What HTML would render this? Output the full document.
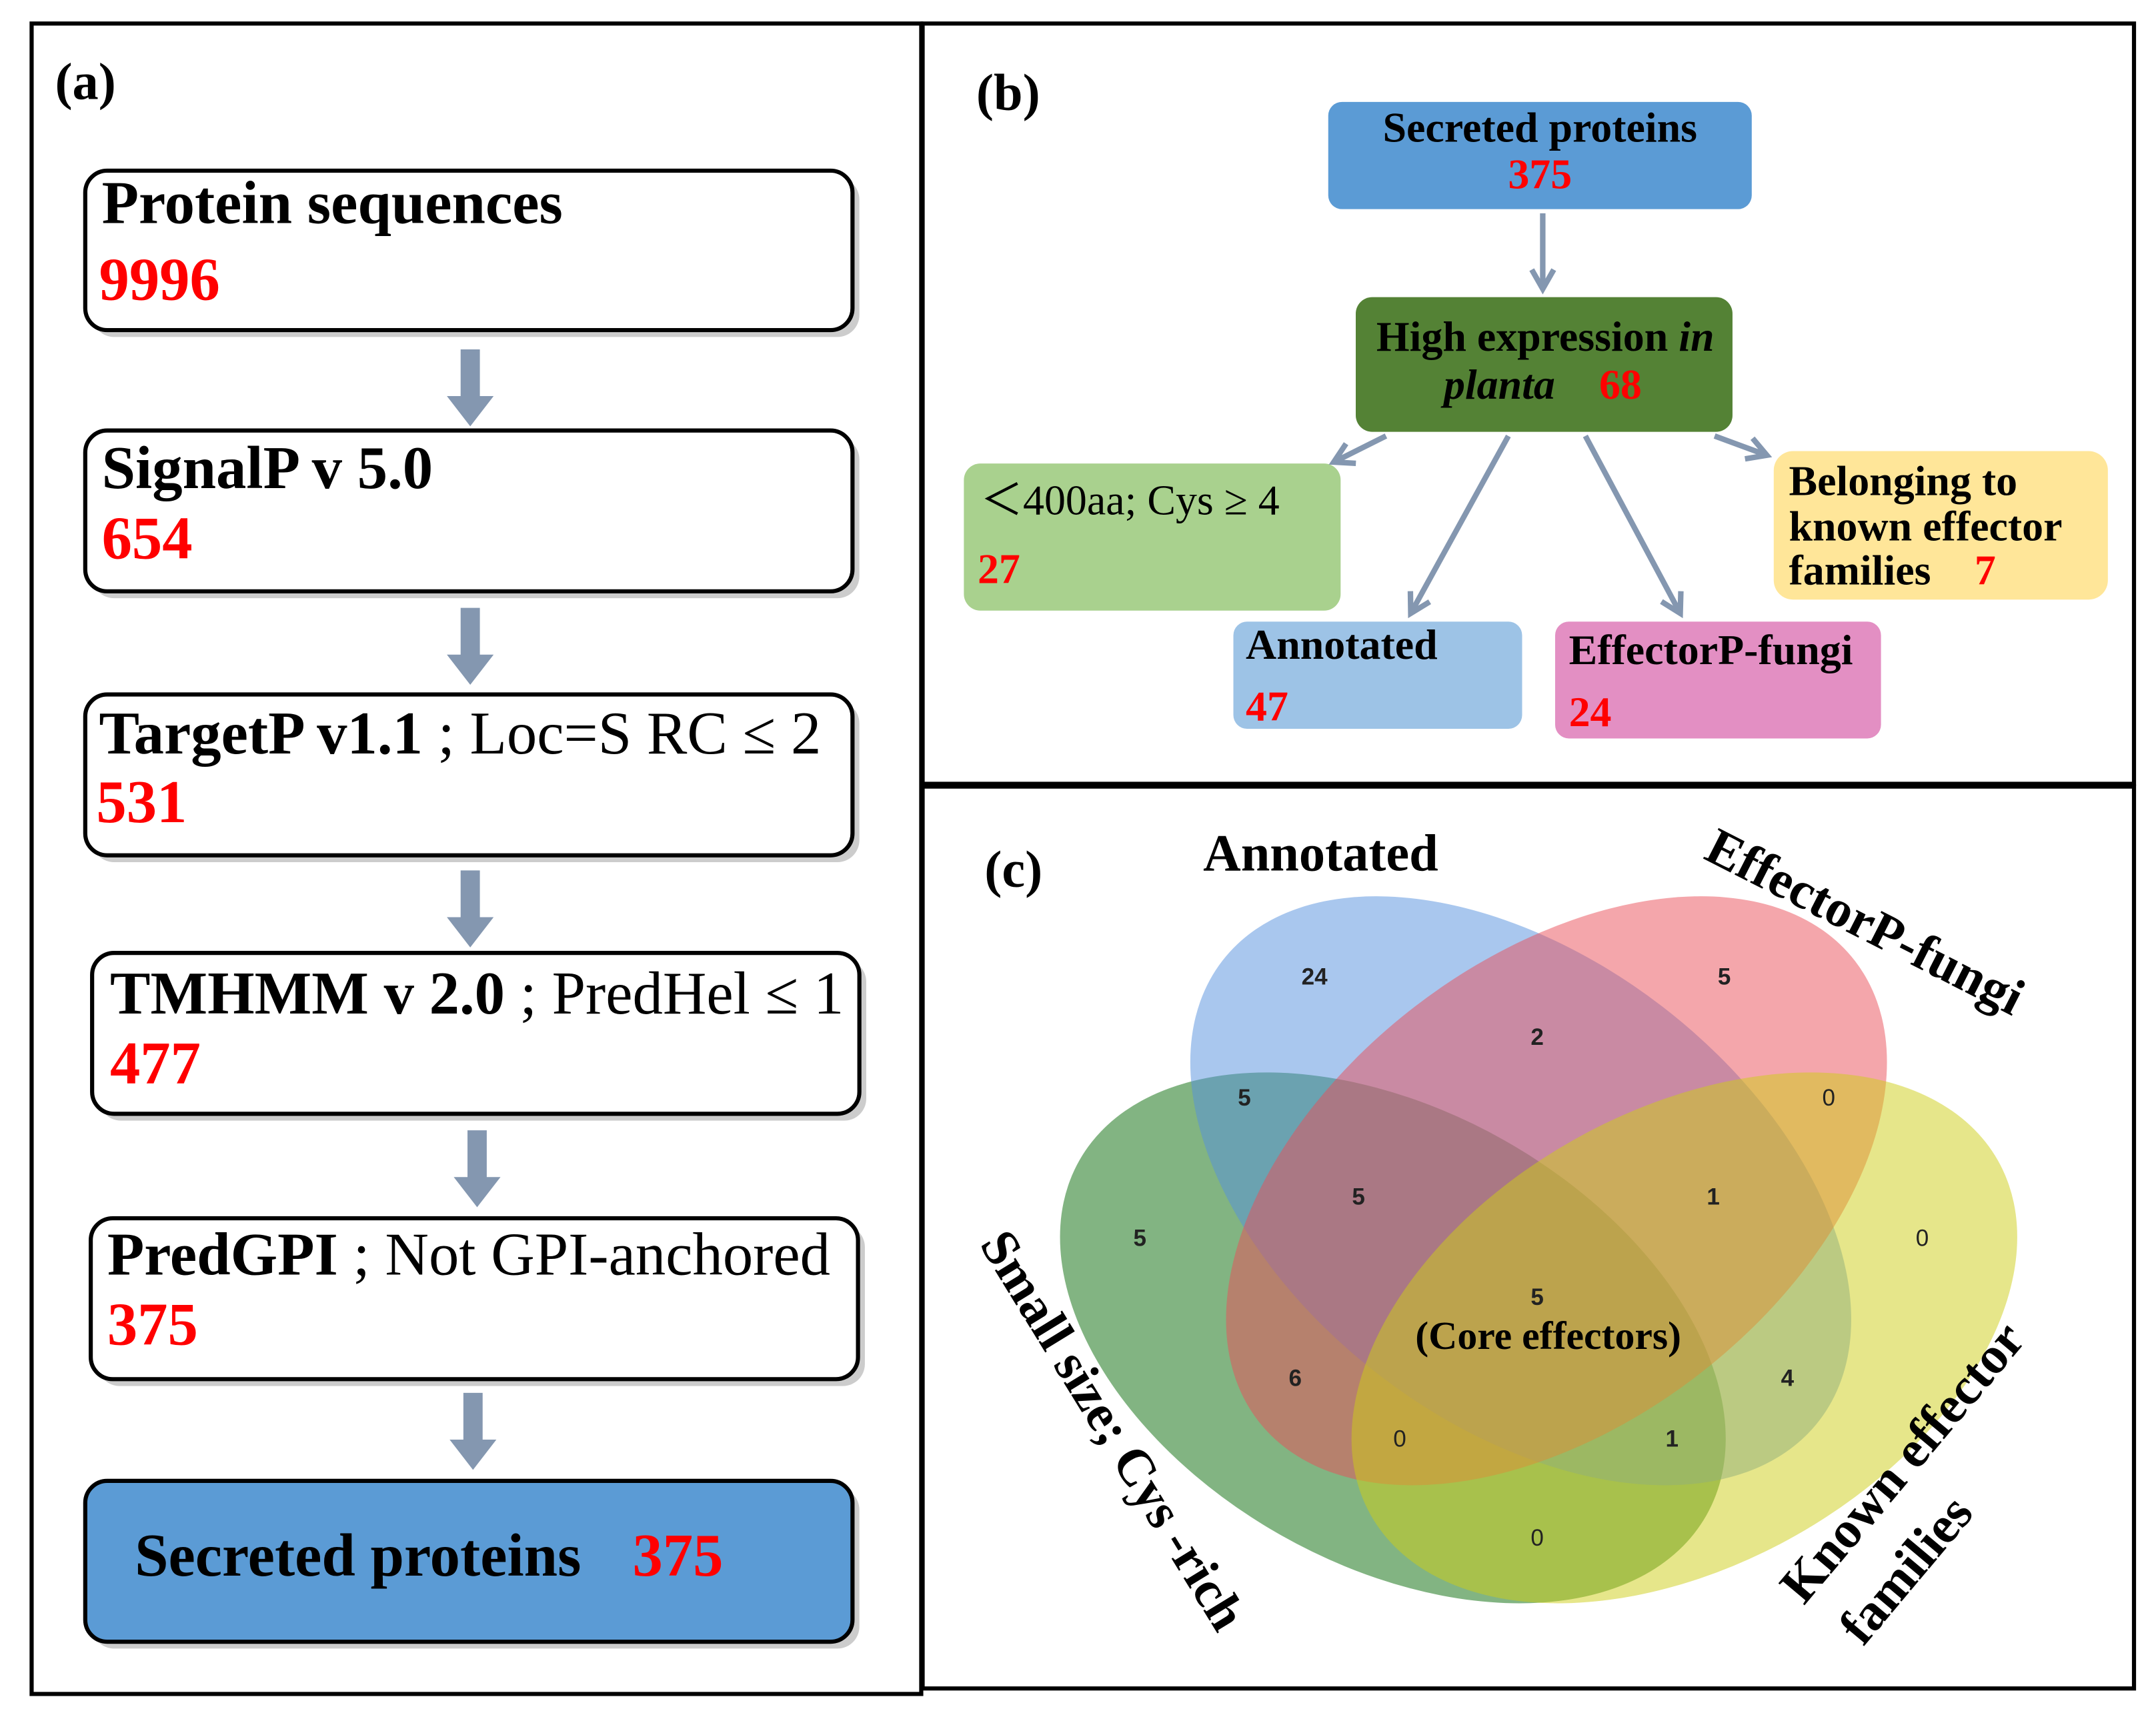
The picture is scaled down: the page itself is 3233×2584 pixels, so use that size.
<!DOCTYPE html>
<html><head><meta charset="utf-8"><style>html,body{margin:0;padding:0;background:#fff}svg{display:block}</style></head>
<body>
<svg xmlns="http://www.w3.org/2000/svg" width="3233" height="2584" viewBox="0 0 1568 1253" font-family="'Liberation Serif', serif">
<defs>
<marker id="ah" viewBox="0 0 10 10" refX="8" refY="5" markerWidth="5" markerHeight="5" orient="auto-start-reverse"><path d="M1,1 L8,5 L1,9" fill="none" stroke="#8497b0" stroke-width="2"/></marker>
</defs>
<rect width="1568" height="1253" fill="#fff"/>
<rect x="23" y="17" width="647" height="1215" fill="none" stroke="#000" stroke-width="3"/>
<rect x="671" y="17" width="881" height="553" fill="none" stroke="#000" stroke-width="3"/>
<rect x="671" y="572" width="881" height="656" fill="none" stroke="#000" stroke-width="3"/>

<!-- panel a -->
<text x="40" y="72" font-size="38" font-weight="bold">(a)</text>
<g stroke="#000" stroke-width="3">
<rect x="67" y="129" width="558" height="116" rx="16" fill="#999" stroke="none" opacity="0.5"/>
<rect x="62" y="124" width="558" height="116" rx="16" fill="#fff"/>
<rect x="67" y="318" width="558" height="117" rx="16" fill="#999" stroke="none" opacity="0.5"/>
<rect x="62" y="313" width="558" height="117" rx="16" fill="#fff"/>
<rect x="67" y="510" width="558" height="117" rx="16" fill="#999" stroke="none" opacity="0.5"/>
<rect x="62" y="505" width="558" height="117" rx="16" fill="#fff"/>
<rect x="72" y="698" width="558" height="117" rx="16" fill="#999" stroke="none" opacity="0.5"/>
<rect x="67" y="693" width="558" height="117" rx="16" fill="#fff"/>
<rect x="71" y="891" width="558" height="117" rx="16" fill="#999" stroke="none" opacity="0.5"/>
<rect x="66" y="886" width="558" height="117" rx="16" fill="#fff"/>
<rect x="67" y="1082" width="558" height="117" rx="16" fill="#999" stroke="none" opacity="0.5"/>
<rect x="62" y="1077" width="558" height="117" rx="16" fill="#5b9bd5"/>
</g>
<g font-size="44" font-weight="bold">
<text x="74" y="162">Protein sequences</text>
<text x="72" y="218" fill="#f00">9996</text>
<text x="74" y="355">SignalP v 5.0</text>
<text x="74" y="406" fill="#f00">654</text>
<text x="72" y="548">TargetP v1.1 <tspan font-weight="normal">; Loc=S RC ≤ 2</tspan></text>
<text x="70" y="598" fill="#f00">531</text>
<text x="80" y="737">TMHMM v 2.0 <tspan font-weight="normal">; PredHel ≤ 1</tspan></text>
<text x="80" y="788" fill="#f00">477</text>
<text x="78" y="927">PredGPI <tspan font-weight="normal">; Not GPI-anchored</tspan></text>
<text x="78" y="978" fill="#f00">375</text>
<text x="98" y="1146">Secreted proteins</text>
<text x="460" y="1146" fill="#f00">375</text>
</g>
<g fill="#8497b0">
<path d="M335,254 h14 v34 h10 l-17,22 l-17,-22 h10z"/>
<path d="M335,442 h14 v34 h10 l-17,22 l-17,-22 h10z"/>
<path d="M335,633 h14 v34 h10 l-17,22 l-17,-22 h10z"/>
<path d="M340,822 h14 v34 h10 l-17,22 l-17,-22 h10z"/>
<path d="M337,1013 h14 v34 h10 l-17,22 l-17,-22 h10z"/>
</g>

<!-- panel b -->
<text x="710" y="80" font-size="38" font-weight="bold">(b)</text>
<rect x="966" y="74" width="308" height="78" rx="10" fill="#5b9bd5"/>
<rect x="986" y="216" width="274" height="98" rx="12" fill="#548235"/>
<rect x="701" y="337" width="274" height="107" rx="12" fill="#a9d18e"/>
<rect x="897" y="452" width="210" height="78" rx="10" fill="#9dc3e6"/>
<rect x="1131" y="452" width="237" height="85" rx="10" fill="#e38fc3"/>
<rect x="1290" y="328" width="243" height="108" rx="14" fill="#ffe699"/>
<g stroke="#8497b0" stroke-width="4" fill="none" marker-end="url(#ah)">
<line x1="1122" y1="155" x2="1122" y2="210"/>
<line x1="1008" y1="317" x2="970" y2="336"/>
<line x1="1097" y1="317" x2="1026" y2="446"/>
<line x1="1153" y1="317" x2="1222" y2="446"/>
<line x1="1247" y1="317" x2="1285" y2="331"/>
</g>
<g font-size="31" font-weight="bold">
<text x="1120" y="103" text-anchor="middle">Secreted proteins</text>
<text x="1120" y="137" text-anchor="middle" fill="#f00">375</text>
<text x="1001" y="255">High expression <tspan font-style="italic">in</tspan></text>
<text x="1050" y="290" font-style="italic">planta</text>
<text x="1163" y="290" fill="#f00">68</text>
<text x="713" y="374" font-weight="normal">＜400aa; Cys ≥ 4</text>
<text x="711" y="424" fill="#f00">27</text>
<text x="906" y="479">Annotated</text>
<text x="906" y="524" fill="#f00">47</text>
<text x="1141" y="483">EffectorP-fungi</text>
<text x="1141" y="528" fill="#f00">24</text>
<text x="1301" y="360">Belonging to</text>
<text x="1301" y="393">known effector</text>
<text x="1301" y="425">families</text>
<text x="1436" y="425" fill="#f00">7</text>
</g>

<!-- panel c -->
<g>
<ellipse cx="1013" cy="973" rx="262" ry="165" transform="rotate(29.5 1013 973)" fill="#056905" opacity="0.5"/>
<ellipse cx="1106" cy="866" rx="274" ry="169" transform="rotate(37.6 1106 866)" fill="#538fdd" opacity="0.5"/>
<ellipse cx="1132" cy="866" rx="274" ry="169" transform="rotate(-37.6 1132 866)" fill="#e94d57" opacity="0.5"/>
<ellipse cx="1225" cy="973" rx="262" ry="165" transform="rotate(-29.5 1225 973)" fill="#cdcd15" opacity="0.5"/>
</g>
<text x="716" y="645" font-size="38" font-weight="bold">(c)</text>
<text x="875" y="633" font-size="38" font-weight="bold">Annotated</text>
<text transform="translate(1238,624) rotate(27)" font-size="38" font-weight="bold">EffectorP-fungi</text>
<text transform="translate(712,905) rotate(58.5)" font-size="38" font-weight="bold">Small size; Cys -rich</text>
<text transform="translate(1312,1168) rotate(-50)" font-size="38" font-weight="bold">Known effector</text>
<text transform="translate(1355,1198) rotate(-50)" font-size="38" font-weight="bold">families</text>
<g font-family="'Liberation Sans', sans-serif" font-size="17" text-anchor="middle" font-weight="bold" fill="#222">
<text x="956" y="716">24</text>
<text x="1254" y="716">5</text>
<text x="1118" y="760">2</text>
<text x="905" y="804">5</text>
<text x="1330" y="804" font-weight="normal">0</text>
<text x="988" y="876">5</text>
<text x="1246" y="876">1</text>
<text x="829" y="906">5</text>
<text x="1398" y="906" font-weight="normal">0</text>
<text x="1118" y="949">5</text>
<text x="942" y="1008">6</text>
<text x="1300" y="1008">4</text>
<text x="1018" y="1052" font-weight="normal">0</text>
<text x="1216" y="1052">1</text>
<text x="1118" y="1124" font-weight="normal">0</text>
</g>
<text x="1126" y="981" font-size="29" font-weight="bold" text-anchor="middle">(Core effectors)</text>
</svg>
</body></html>
